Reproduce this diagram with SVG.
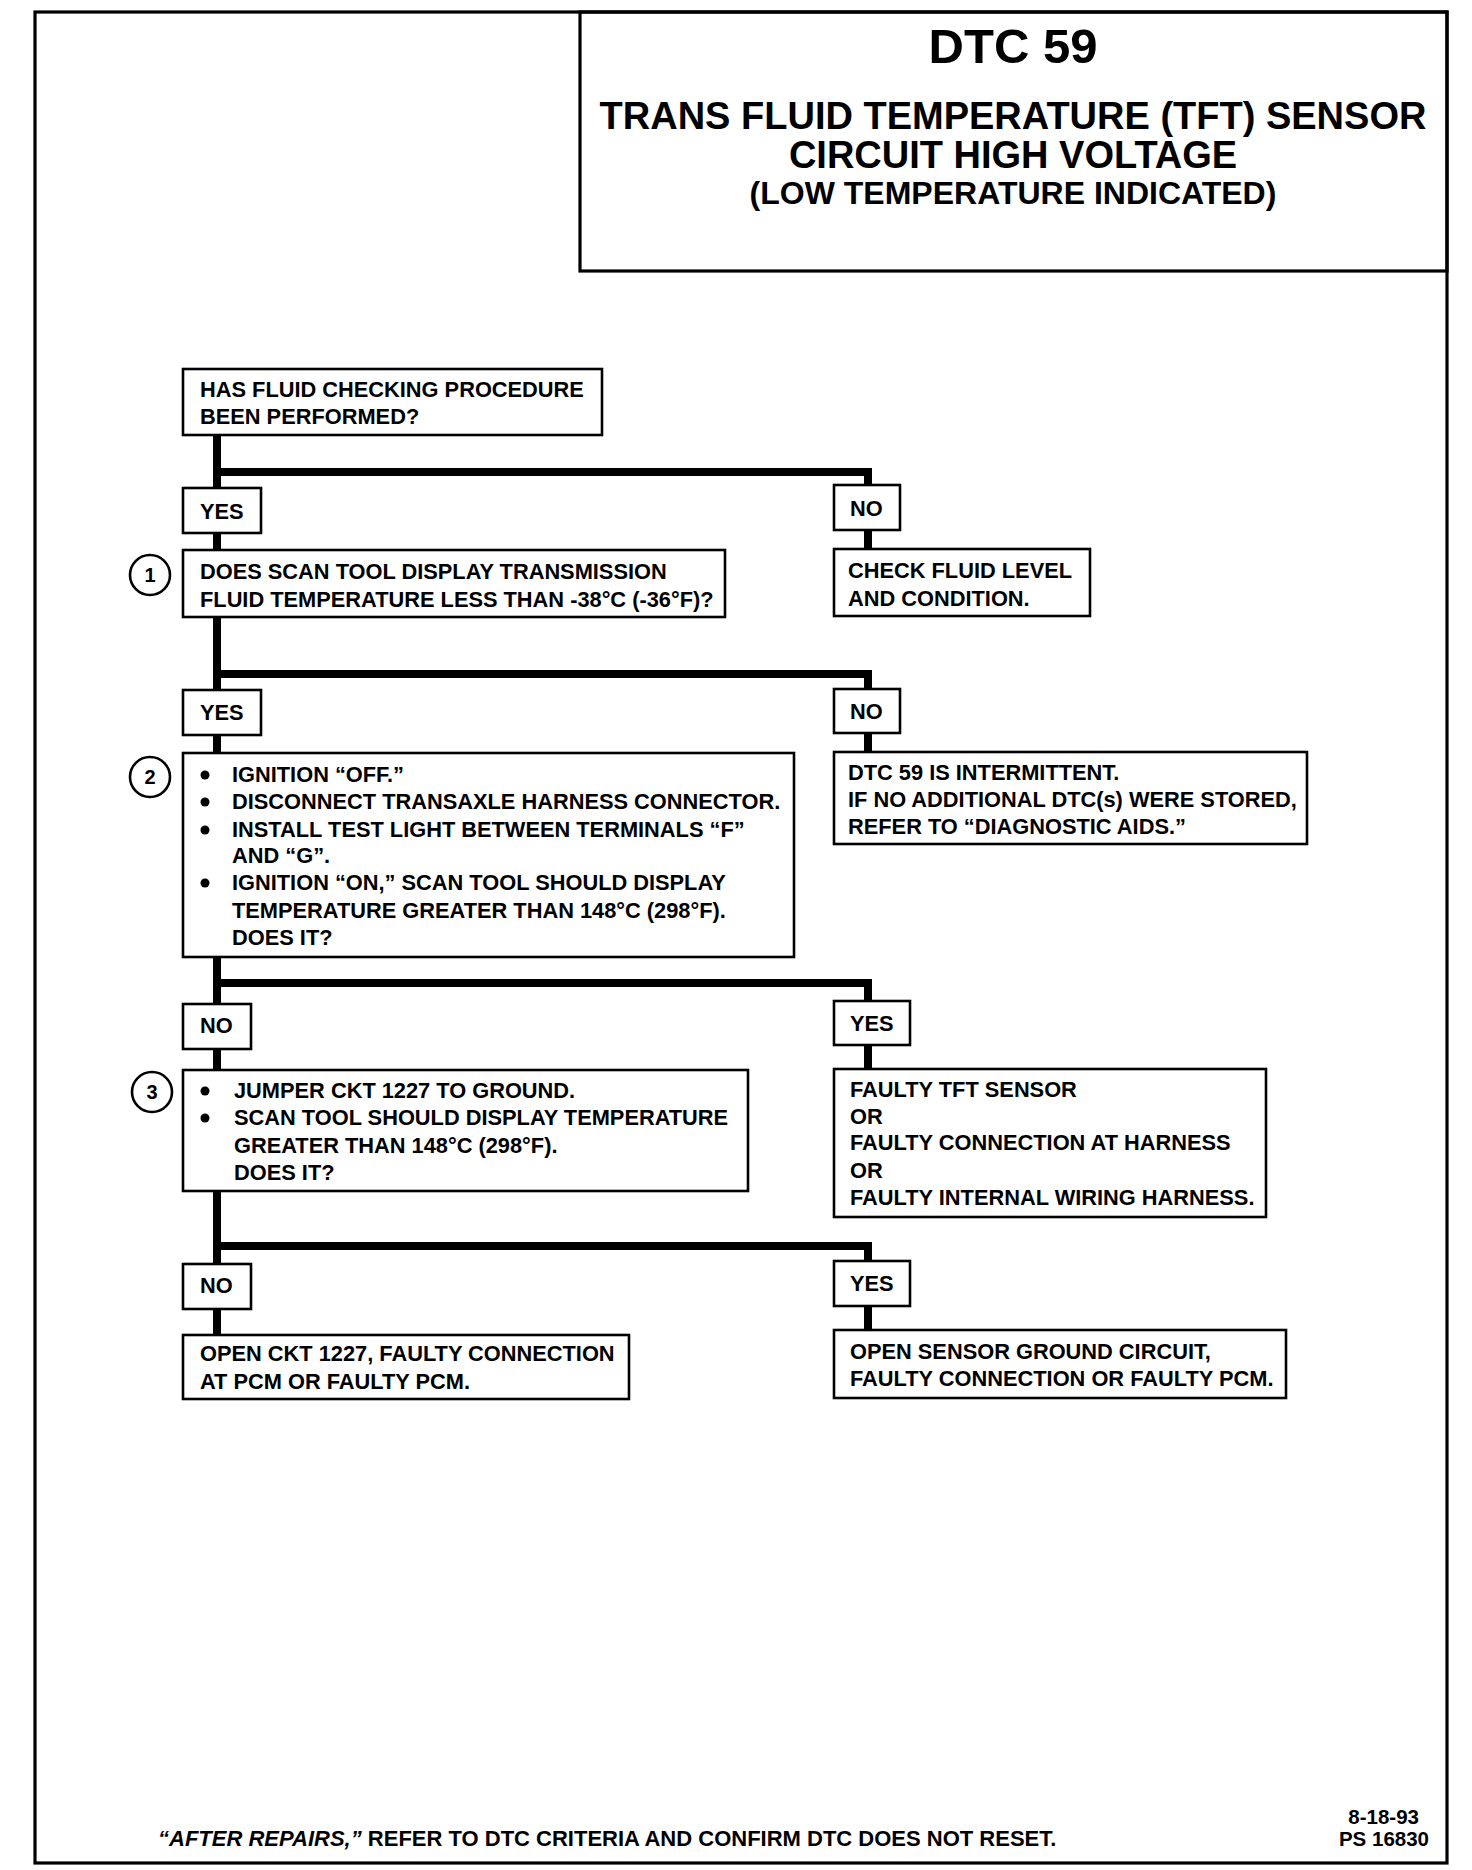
<svg xmlns="http://www.w3.org/2000/svg" width="1472" height="1870" viewBox="0 0 1472 1870">
<style>
text{font-family:"Liberation Sans",Arial,sans-serif;font-weight:bold;fill:#000}
.t{font-size:21.8px}
.h1{font-size:49px}
.h2{font-size:38px}
.h3{font-size:32px}
.f{font-size:22px}
.d{font-size:20.5px}
.box{fill:#fff;stroke:#000;stroke-width:2.6}
.frame{fill:none;stroke:#000;stroke-width:3.2}
.con{fill:none;stroke:#000;stroke-width:8;stroke-linejoin:miter;stroke-linecap:butt}
.circ{fill:#fff;stroke:#000;stroke-width:2.6}
.num{font-size:20px;text-anchor:middle}
</style>
<rect width="1472" height="1870" fill="#fff"/>
<rect class="frame" x="35" y="12" width="1412" height="1851"/>
<g id="header">
<rect class="frame" x="580" y="12" width="867" height="259"/>
<text class="h1" x="1013" y="63" text-anchor="middle">DTC 59</text>
<text class="h2" x="1013" y="129" text-anchor="middle">TRANS FLUID TEMPERATURE (TFT) SENSOR</text>
<text class="h2" x="1013" y="168" text-anchor="middle">CIRCUIT HIGH VOLTAGE</text>
<text class="h3" x="1013" y="204" text-anchor="middle">(LOW TEMPERATURE INDICATED)</text>
</g>
<g id="connectors">
<path class="con" d="M217 435V488M217 472H868V485M217 533V550M868 530V549"/>
<path class="con" d="M217 617V690M217 674H868V689M217 735V753M868 733V752"/>
<path class="con" d="M217 957V1004M217 983H868V1001M217 1049V1070M868 1045V1069"/>
<path class="con" d="M217 1191V1264M217 1246H868V1261M217 1309V1335M868 1306V1330"/>
</g>
<g id="n-start">
<rect class="box" x="183" y="369" width="419" height="66"/>
<text class="t" x="200" y="397">HAS FLUID CHECKING PROCEDURE</text>
<text class="t" x="200" y="424">BEEN PERFORMED?</text>
</g>
<g id="l-yes1"><rect class="box" x="183" y="488" width="78" height="45"/><text class="t" x="200" y="519">YES</text></g>
<g id="l-no1"><rect class="box" x="834" y="485" width="66" height="45"/><text class="t" x="850" y="516">NO</text></g>
<g id="step1">
<circle class="circ" cx="150" cy="575" r="20"/><text class="num" x="150" y="582">1</text>
</g>
<g id="n-q1">
<rect class="box" x="183" y="550" width="542" height="67"/>
<text class="t" x="200" y="579">DOES SCAN TOOL DISPLAY TRANSMISSION</text>
<text class="t" x="200" y="607">FLUID TEMPERATURE LESS THAN -38°C (-36°F)?</text>
</g>
<g id="n-check">
<rect class="box" x="834" y="549" width="256" height="67"/>
<text class="t" x="848" y="578">CHECK FLUID LEVEL</text>
<text class="t" x="848" y="606">AND CONDITION.</text>
</g>
<g id="l-yes2"><rect class="box" x="183" y="690" width="78" height="45"/><text class="t" x="200" y="720">YES</text></g>
<g id="l-no2"><rect class="box" x="834" y="689" width="66" height="44"/><text class="t" x="850" y="719">NO</text></g>
<g id="step2">
<circle class="circ" cx="150" cy="777" r="20"/><text class="num" x="150" y="784">2</text>
</g>
<g id="n-q2">
<rect class="box" x="183" y="753" width="611" height="204"/>
<circle cx="205" cy="775" r="4.5"/><circle cx="205" cy="802" r="4.5"/><circle cx="205" cy="830" r="4.5"/><circle cx="205" cy="883" r="4.5"/>
<text class="t" x="232" y="782">IGNITION “OFF.”</text>
<text class="t" x="232" y="809">DISCONNECT TRANSAXLE HARNESS CONNECTOR.</text>
<text class="t" x="232" y="837">INSTALL TEST LIGHT BETWEEN TERMINALS “F”</text>
<text class="t" x="232" y="863">AND “G”.</text>
<text class="t" x="232" y="890">IGNITION “ON,” SCAN TOOL SHOULD DISPLAY</text>
<text class="t" x="232" y="918">TEMPERATURE GREATER THAN 148°C (298°F).</text>
<text class="t" x="232" y="945">DOES IT?</text>
</g>
<g id="n-intermittent">
<rect class="box" x="834" y="752" width="473" height="92"/>
<text class="t" x="848" y="780">DTC 59 IS INTERMITTENT.</text>
<text class="t" x="848" y="807">IF NO ADDITIONAL DTC(s) WERE STORED,</text>
<text class="t" x="848" y="834">REFER TO “DIAGNOSTIC AIDS.”</text>
</g>
<g id="l-no3"><rect class="box" x="183" y="1004" width="68" height="45"/><text class="t" x="200" y="1033">NO</text></g>
<g id="l-yes3"><rect class="box" x="834" y="1001" width="76" height="44"/><text class="t" x="850" y="1031">YES</text></g>
<g id="step3">
<circle class="circ" cx="152" cy="1092" r="20"/><text class="num" x="152" y="1099">3</text>
</g>
<g id="n-q3">
<rect class="box" x="183" y="1070" width="565" height="121"/>
<circle cx="205" cy="1091" r="4.5"/><circle cx="205" cy="1118" r="4.5"/>
<text class="t" x="234" y="1098">JUMPER CKT 1227 TO GROUND.</text>
<text class="t" x="234" y="1125">SCAN TOOL SHOULD DISPLAY TEMPERATURE</text>
<text class="t" x="234" y="1153">GREATER THAN 148°C (298°F).</text>
<text class="t" x="234" y="1180">DOES IT?</text>
</g>
<g id="n-faulty">
<rect class="box" x="834" y="1069" width="432" height="148"/>
<text class="t" x="850" y="1097">FAULTY TFT SENSOR</text>
<text class="t" x="850" y="1124">OR</text>
<text class="t" x="850" y="1150">FAULTY CONNECTION AT HARNESS</text>
<text class="t" x="850" y="1178">OR</text>
<text class="t" x="850" y="1205">FAULTY INTERNAL WIRING HARNESS.</text>
</g>
<g id="l-no4"><rect class="box" x="183" y="1264" width="68" height="45"/><text class="t" x="200" y="1293">NO</text></g>
<g id="l-yes4"><rect class="box" x="834" y="1261" width="76" height="45"/><text class="t" x="850" y="1291">YES</text></g>
<g id="n-openckt">
<rect class="box" x="183" y="1335" width="446" height="64"/>
<text class="t" x="200" y="1361">OPEN CKT 1227, FAULTY CONNECTION</text>
<text class="t" x="200" y="1389">AT PCM OR FAULTY PCM.</text>
</g>
<g id="n-opensensor">
<rect class="box" x="834" y="1330" width="452" height="68"/>
<text class="t" x="850" y="1359">OPEN SENSOR GROUND CIRCUIT,</text>
<text class="t" x="850" y="1386">FAULTY CONNECTION OR FAULTY PCM.</text>
</g>
<g id="footer">
<text class="f" x="158" y="1846"><tspan font-style="italic">“AFTER REPAIRS,”</tspan> REFER TO DTC CRITERIA AND CONFIRM DTC DOES NOT RESET.</text>
<text class="d" x="1419" y="1824" text-anchor="end">8-18-93</text>
<text class="d" x="1429" y="1846" text-anchor="end">PS 16830</text>
</g>
</svg>
